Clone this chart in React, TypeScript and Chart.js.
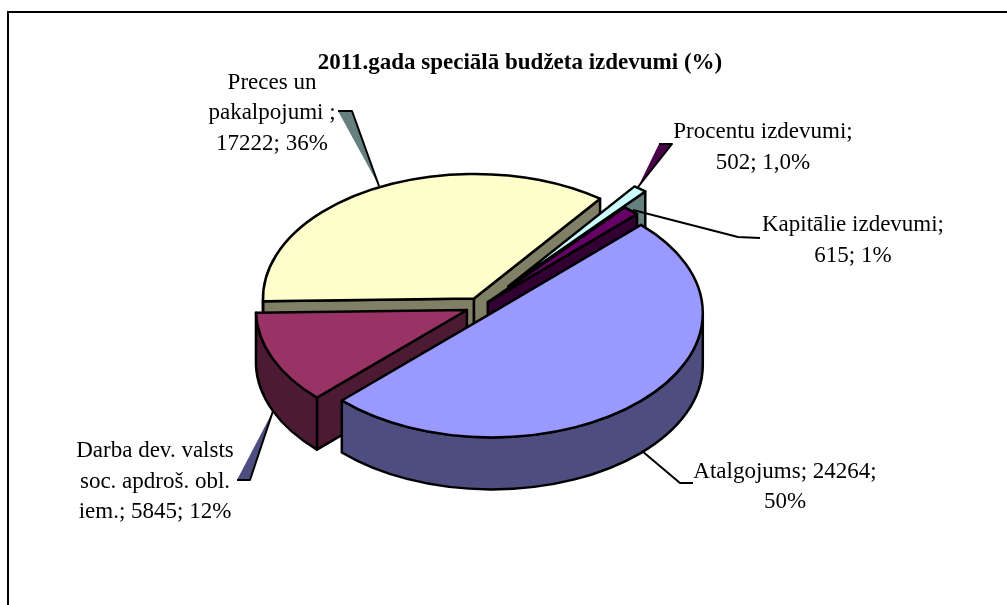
import React, { useEffect, useRef } from "react";
import { Chart, registerables } from "chart.js";

Chart.register(...registerables);

const categories = ["Atalgojums", "Darba dev. valsts soc. apdroš. obl. iem.", "Preces un pakalpojumi", "Procentu izdevumi", "Kapitālie izdevumi"];
const values = [24264, 5845, 17222, 502, 615];
const explode = [15.3, 15.3, 15.3, 44, 10];
const topColors = ["#9999FF", "#993366", "#FFFFCC", "#CCFFFF", "#660066"];
const sideColors = ["#4D4D80", "#4D1A33", "#808066", "#668080", "#330033"];
const drawOrder = [2, 3, 4, 1, 0];

const titleText = "2011.gada speciālā budžeta izdevumi (%)";
const labelBlocks = [
  { lines: ["Atalgojums; 24264;", "50%"], x: 785, y: 471.5 },
  { lines: ["Darba dev. valsts", "soc. apdroš. obl.", "iem.; 5845; 12%"], x: 155, y: 451 },
  { lines: ["Preces un", "pakalpojumi ;", "17222; 36%"], x: 272, y: 82.5 },
  { lines: ["Procentu izdevumi;", "502; 1,0%"], x: 763, y: 132 },
  { lines: ["Kapitālie izdevumi;", "615; 1%"], x: 853, y: 225 },
];
const labelLineHeight = 30.6;

const leaderWedges = [
  { pts: [[659, 144], [672, 144], [638, 187]], fill: "#4A004A", edge: [[659, 144], [672, 144], [638, 187]] },
  { pts: [[338, 111], [352, 111], [379, 186]], fill: "#668080", edge: [[338, 111], [352, 111], [379, 186]] },
  { pts: [[237, 480], [250, 480], [273, 411]], fill: "#4D4D80", edge: [[237, 480], [250, 480], [273, 411]] },
];
const leaderLines = [
  [[642, 451], [680, 483], [693, 483]],
  [[633, 210], [738, 237], [760, 238]],
];

const ELLIPSE = 0.59;
const DEPTH = 52;

const pie3d = {
  id: "pie3d",
  beforeDraw(chart: any) {
    const ctx = chart.ctx;
    ctx.save();
    ctx.fillStyle = "#000";
    ctx.fillRect(7, 11, 1000, 2);
    ctx.fillRect(7, 11, 2, 594);
    ctx.restore();
  },
  beforeDatasetsDraw(chart: any) {
    const ctx = chart.ctx;
    const arcs = chart.getDatasetMeta(0).data;
    ctx.save();
    ctx.lineWidth = 2.5;
    ctx.lineJoin = "round";
    ctx.strokeStyle = "#000";

    drawOrder.forEach((i) => {
      const a = arcs[i];
      const s = a.startAngle;
      const e = a.endAngle;
      const mid = (s + e) / 2;
      const R = a.outerRadius;
      const ax = a.x + Math.cos(mid) * explode[i];
      const ay = a.y + Math.sin(mid) * explode[i] * ELLIPSE;
      const px = (t: number) => ax + Math.cos(t) * R;
      const py = (t: number) => ay + Math.sin(t) * R * ELLIPSE;

      const paint = (fill: string) => {
        ctx.fillStyle = fill;
        ctx.fill();
        ctx.stroke();
      };
      const radialWall = (t: number) => {
        ctx.beginPath();
        ctx.moveTo(ax, ay);
        ctx.lineTo(px(t), py(t));
        ctx.lineTo(px(t), py(t) + DEPTH);
        ctx.lineTo(ax, ay + DEPTH);
        ctx.closePath();
        paint(sideColors[i]);
      };

      if (Math.cos(s) < 0) radialWall(s);
      if (Math.cos(e) > 0) radialWall(e);

      [0, 2 * Math.PI].forEach((shift) => {
        const from = Math.max(s, shift);
        const to = Math.min(e, Math.PI + shift);
        if (to <= from) return;
        ctx.beginPath();
        ctx.ellipse(ax, ay, R, R * ELLIPSE, 0, from, to);
        ctx.ellipse(ax, ay + DEPTH, R, R * ELLIPSE, 0, to, from, true);
        ctx.closePath();
        paint(sideColors[i]);
      });

      ctx.beginPath();
      ctx.moveTo(ax, ay);
      ctx.ellipse(ax, ay, R, R * ELLIPSE, 0, s, e);
      ctx.closePath();
      paint(topColors[i]);
    });
    ctx.restore();
    return false;
  },
  afterDraw(chart: any) {
    const ctx = chart.ctx;
    ctx.save();
    ctx.strokeStyle = "#000";
    ctx.lineWidth = 2;
    ctx.lineJoin = "round";
    leaderWedges.forEach((w) => {
      ctx.beginPath();
      w.pts.forEach(([x, y], k) => (k ? ctx.lineTo(x, y) : ctx.moveTo(x, y)));
      ctx.closePath();
      ctx.fillStyle = w.fill;
      ctx.fill();
      ctx.beginPath();
      ctx.moveTo(w.edge[0][0], w.edge[0][1]);
      ctx.lineTo(w.edge[1][0], w.edge[1][1]);
      ctx.lineTo(w.edge[2][0], w.edge[2][1]);
      ctx.stroke();
    });
    leaderLines.forEach((l) => {
      ctx.beginPath();
      l.forEach(([x, y], k) => (k ? ctx.lineTo(x, y) : ctx.moveTo(x, y)));
      ctx.stroke();
    });

    ctx.fillStyle = "#000";
    ctx.textAlign = "center";
    ctx.textBaseline = "middle";
    ctx.font = 'bold 23px "Liberation Serif"';
    ctx.fillText(titleText, 520, 63.5);
    ctx.font = '23px "Liberation Serif"';
    labelBlocks.forEach((b) => {
      b.lines.forEach((t, k) => ctx.fillText(t, b.x, b.y + k * labelLineHeight));
    });
    ctx.restore();
  },
};

export default function App() {
  const ref = useRef<HTMLCanvasElement>(null);
  useEffect(() => {
    const chart = new Chart(ref.current as HTMLCanvasElement, {
      type: "pie",
      data: {
        labels: categories,
        datasets: [{ data: values, backgroundColor: topColors, radius: 211 }],
      },
      options: {
        animation: false,
        responsive: false,
        rotation: 45,
        layout: { padding: { left: 0, right: 45, top: 8, bottom: 0 } },
        plugins: { legend: { display: false }, tooltip: { enabled: false } },
      },
      plugins: [pie3d],
    } as any);
    return () => chart.destroy();
  }, []);
  return (
    <canvas
      ref={ref}
      width={1007}
      height={605}
      style={{ position: "absolute", left: 0, top: 0, display: "block" }}
    />
  );
}
